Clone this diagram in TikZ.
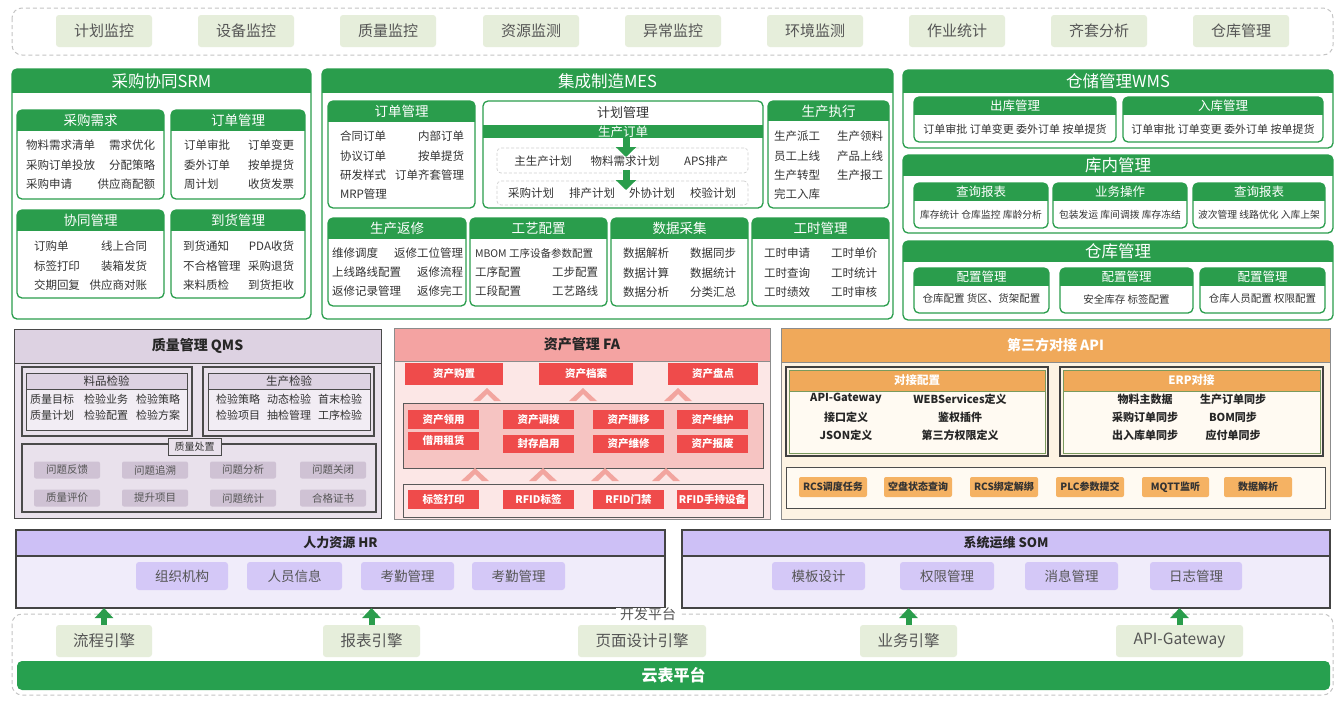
\documentclass[tikz,border=0pt]{standalone}
\usepackage{fontspec}
\setmainfont{Noto Sans CJK SC}
\usetikzlibrary{arrows.meta,calc}
\definecolor{Cgr}{HTML}{2A9D4C}
\definecolor{Clgr}{HTML}{E6EEDB}
\definecolor{Ctxt}{HTML}{333333}
\definecolor{Cgtx}{HTML}{555555}
\definecolor{Cdash}{HTML}{C4C4C4}
\definecolor{Cqbody}{HTML}{E9E1EC}
\definecolor{Cqhead}{HTML}{DDD2E2}
\definecolor{Cqin}{HTML}{F2EDF4}
\definecolor{Cqchip}{HTML}{CFC2D4}
\definecolor{Cqline}{HTML}{4A4A4A}
\definecolor{Cfhead}{HTML}{F4A3A2}
\definecolor{Cfbody}{HTML}{FCE7E6}
\definecolor{Cfmid}{HTML}{F6C4C2}
\definecolor{Cfred}{HTML}{EF4B4B}
\definecolor{Cfchev}{HTML}{F2A59F}
\definecolor{Cahead}{HTML}{F0A95A}
\definecolor{Cabody}{HTML}{FDF3E3}
\definecolor{Cain}{HTML}{FFFAF2}
\definecolor{Cachip}{HTML}{F5B263}
\definecolor{Cagl}{HTML}{7A9A5E}
\definecolor{Chhead}{HTML}{CDC0F6}
\definecolor{Chbody}{HTML}{F0ECFA}
\definecolor{Chchip}{HTML}{D4C8F7}
\definecolor{Chline}{HTML}{444444}
\definecolor{Ccloud}{HTML}{27A04F}
\newcommand\fsz[1]{\fontsize{#1pt}{#1pt}\selectfont}
\newcounter{nn}
\newcommand\itm[3][]{\stepcounter{nn}\node[itx,#1] (i\arabic{nn}) at (#2) {#3};}
\newcommand\trow[5]{\itm[anchor=west]{#1,#3}{#4}\itm[anchor=east]{#2,#3}{#5}}
\newcommand\grp[8][gsub]{%
 \begin{scope}\clip[rounded corners=5pt] (#3,#4) rectangle (#5,#6);
 \fill[Cgr] (#3,#4) rectangle (#5,#7);\end{scope}
 \draw[Cgr,line width=1.3pt,rounded corners=5pt] (#3,#4) rectangle (#5,#6);
 \node[#1] (#2) at ({(#3+#5)/2},{(#4+#7)/2}) {#8};}
\newcommand\chip[6]{\stepcounter{nn}\node[#1,minimum width={(#4-#2)*1pt},minimum height={(#5-#3)*1pt}] (c\arabic{nn}) at ({(#2+#4)/2},{(#3+#5)/2}) {#6};}
\newcommand\chev[2]{\fill[Cfchev] (#1-14,#2+13) -- (#1,#2) -- (#1+14,#2+13) -- (#1+7,#2+13) -- (#1,#2+6) -- (#1-7,#2+13) -- cycle;}
\begin{document}
\begin{tikzpicture}[x=1pt,y=-1pt,
 every node/.style={inner sep=0pt,outer sep=0pt},
 itx/.style={font=\fsz{11.5},text=Ctxt},
 gsub/.style={font=\fsz{13.5},text=white},
 gsubb/.style={font=\fsz{12.5},text=white},
 gmain/.style={font=\fsz{16.5},text=white},
 topbox/.style={fill=Clgr,rounded corners=3pt,text=Cgtx,font=\fsz{15}},
 dashbox/.style={draw=Cdash,dash pattern=on 4pt off 3pt,line width=1pt,rounded corners=10pt},
 dashrow/.style={draw=Cdash!80,dash pattern=on 3pt off 2pt,line width=0.7pt,rounded corners=4pt},
 marrow/.style={draw=Cgr,line width=7pt,-{Triangle[width=20pt,length=10pt]}},
 uparrow/.style={draw=Cgr,line width=6pt,-{Triangle[width=18pt,length=10pt]}},
 qouter/.style={draw=Cqline,fill=Cqbody,line width=1pt},
 qhd/.style={draw=Cqline,fill=Cqhead,line width=0.6pt,font=\bfseries\fsz{14},text=black!85},
 qframe/.style={draw=Cqline,line width=1.4pt},
 qinner/.style={draw=Cqline,fill=Cqin,line width=0.7pt},
 qsubh/.style={draw=Cqline,fill=Cqhead,line width=0.7pt,font=\fsz{11.5},text=Ctxt},
 qlabel/.style={draw=Cqline,fill=Cqbody,line width=0.7pt,font=\fsz{10},text=Ctxt},
 qchip/.style={fill=Cqchip,rounded corners=2pt,font=\fsz{10.5},text=Cgtx},
 qitem/.style={font=\fsz{11},text=Ctxt},
 fouter/.style={draw=black!45,fill=Cfbody,line width=0.8pt},
 fhd/.style={draw=black!45,fill=Cfhead,line width=0.6pt,font=\bfseries\fsz{14},text=black!85},
 fchip/.style={fill=Cfred,font=\bfseries\fsz{10.5},text=white},
 fmidbox/.style={draw=black!65,fill=Cfmid,line width=0.8pt},
 fbot/.style={draw=black!65,fill=Cfbody,line width=0.8pt},
 aouter/.style={draw=black!45,fill=Cabody,line width=0.8pt},
 ahd/.style={draw=black!45,fill=Cahead,line width=0.6pt,font=\bfseries\fsz{14},text=white},
 aframe/.style={draw=black!75,line width=1.5pt},
 ainner/.style={draw=Cagl,fill=Cain,line width=0.8pt},
 asubh/.style={draw=Cagl,fill=Cahead,line width=0.8pt,font=\bfseries\fsz{11.5},text=white},
 aitem/.style={font=\bfseries\fsz{11},text=black!85},
 abot/.style={draw=black!70,fill=Cain,line width=0.8pt},
 achip/.style={fill=Cachip,rounded corners=2pt,font=\bfseries\fsz{10},text=Ctxt},
 hhd/.style={draw=Chline,fill=Chhead,line width=1.2pt,font=\bfseries\fsz{13},text=black!85},
 hchip/.style={fill=Chchip,rounded corners=3pt,font=\fsz{13.5},text=Cgtx},
 hbox/.style={draw=Chline,fill=Chbody,line width=1.2pt,anchor=north west}
]
\fill[white] (0,0) rectangle (1338,707);
\useasboundingbox (0,0) rectangle (1338,707);
% ---------- top bar
\draw[dashbox] (12,8) rectangle (1333,55);
\foreach \x/\t [count=\i] in {104/计划监控,246/设备监控,388/质量监控,531/资源监测,673/异常监控,815/环境监测,957/作业统计,1099/齐套分析,1241/仓库管理}
  \node[topbox,minimum width=96pt,minimum height=32pt] (top\i) at (\x,31) {\t};
% ---------- SRM
\grp[gmain]{srm}{12}{69}{311}{319}{93}{采购协同SRM}
\grp{srmA}{17}{110}{164}{199}{131}{采购需求}
\trow{26}{155}{145}{物料需求清单}{需求优化}
\trow{26}{155}{165}{采购订单投放}{分配策略}
\trow{26}{155}{184}{采购申请}{供应商配额}
\grp{srmB}{171}{110}{305}{199}{131}{订单管理}
\trow{184}{294}{145}{订单审批}{订单变更}
\trow{184}{294}{165}{委外订单}{按单提货}
\trow{184}{294}{184}{周计划}{收货发票}
\grp{srmC}{17}{210}{164}{298}{231}{协同管理}
\trow{34}{147}{246}{订购单}{线上合同}
\trow{34}{147}{266}{标签打印}{装箱发货}
\trow{34}{147}{285}{交期回复}{供应商对账}
\grp{srmD}{171}{210}{305}{298}{231}{到货管理}
\trow{183}{294}{246}{到货通知}{PDA收货}
\trow{183}{294}{266}{不合格管理}{采购退货}
\trow{183}{294}{285}{来料质检}{到货拒收}
% ---------- MES
\grp[gmain]{mes}{322}{69}{893}{319}{93}{集成制造MES}
\grp{mesA}{328}{101}{475}{208}{122}{订单管理}
\trow{340}{464}{136}{合同订单}{内部订单}
\trow{340}{464}{156}{协议订单}{按单提货}
\trow{340}{464}{175}{研发样式}{订单齐套管理}
\itm[anchor=west]{340,194}{MRP管理}
\draw[Cgr,line width=1.3pt,rounded corners=5pt] (483,101) rectangle (763,208);
\node[font=\fsz{13},text=Ctxt] (planT) at (623,113) {计划管理};
\node[fill=Cgr,minimum width=280pt,minimum height=13pt,font=\fsz{12.5},text=white] (band) at (623,131.5) {生产订单};
\node[dashrow,minimum width=251pt,minimum height=25pt] (prow1) at (622.5,160.5) {};
\node[dashrow,minimum width=251pt,minimum height=24pt] (prow2) at (622.5,193) {};
\coordinate (a1) at (626,157);
\coordinate (a2) at (626,190);
\draw[marrow] (band.south -| a1) -- (a1);
\draw[marrow] ($(prow1.south -| a2)+(0,-3)$) -- (a2);
\itm{543,161}{主生产计划}
\itm{625,161}{物料需求计划}
\itm{706,161}{APS排产}
\itm{531,193}{采购计划}
\itm{592,193}{排产计划}
\itm{652,193}{外协计划}
\itm{713,193}{校验计划}
\grp{mesC}{768}{101}{889}{208}{121}{生产执行}
\trow{774}{883}{136}{生产派工}{生产领料}
\trow{774}{883}{156}{员工上线}{产品上线}
\trow{774}{883}{175}{生产转型}{生产报工}
\itm[anchor=west]{774,194}{完工入库}
\grp{mesD}{328}{218}{466}{306}{239}{生产返修}
\trow{332}{463}{253}{维修调度}{返修工位管理}
\trow{332}{463}{272}{上线路线配置}{返修流程}
\trow{332}{463}{291}{返修记录管理}{返修完工}
\grp{mesE}{470}{218}{607}{306}{239}{工艺配置}
\itm[anchor=west,font=\fsz{10.5}]{475,253}{MBOM 工序设备参数配置}
\trow{475}{598}{272}{工序配置}{工步配置}
\trow{475}{598}{291}{工段配置}{工艺路线}
\grp{mesF}{611}{218}{748}{306}{239}{数据采集}
\trow{623}{736}{253}{数据解析}{数据同步}
\trow{623}{736}{273}{数据计算}{数据统计}
\trow{623}{736}{292}{数据分析}{分类汇总}
\grp{mesG}{752}{218}{889}{306}{239}{工时管理}
\trow{764}{877}{253}{工时申请}{工时单价}
\trow{764}{877}{273}{工时查询}{工时统计}
\trow{764}{877}{292}{工时绩效}{工时审核}
% ---------- WMS
\grp[gmain]{wms}{903}{70}{1333}{148}{93}{仓储管理WMS}
\grp[gsubb]{wmsA}{914}{97}{1116}{142}{115}{出库管理}
\itm[font=\fsz{11}]{1015,129}{订单审批 订单变更 委外订单 按单提货}
\grp[gsubb]{wmsB}{1123}{97}{1323}{142}{115}{入库管理}
\itm[font=\fsz{11}]{1223,129}{订单审批 订单变更 委外订单 按单提货}
\grp[gmain]{wmsC}{903}{155}{1333}{233}{176}{库内管理}
\grp[gsubb]{wmsD}{914}{183}{1048}{228}{201}{查询报表}
\itm[font=\fsz{9.8}]{981,215}{库存统计 仓库监控 库龄分析}
\grp[gsubb]{wmsE}{1053}{183}{1187}{228}{201}{业务操作}
\itm[font=\fsz{9.8}]{1120,215}{包装发运 库间调拨 库存冻结}
\grp[gsubb]{wmsF}{1193}{183}{1325}{228}{201}{查询报表}
\itm[font=\fsz{9.8}]{1259,215}{波次管理 线路优化 入库上架}
\grp[gmain]{wmsG}{903}{241}{1333}{320}{262}{仓库管理}
\grp[gsubb]{wmsH}{914}{268}{1049}{313}{286}{配置管理}
\itm[font=\fsz{10.5}]{981.5,299}{仓库配置 货区、货架配置}
\grp[gsubb]{wmsI}{1060}{268}{1193}{313}{286}{配置管理}
\itm[font=\fsz{10.5}]{1126.5,299}{安全库存 标签配置}
\grp[gsubb]{wmsJ}{1200}{268}{1325}{313}{286}{配置管理}
\itm[font=\fsz{10.5}]{1262.5,299}{仓库人员配置 权限配置}
% ---------- QMS
\chip{qouter}{14}{329}{381}{518}{}
\chip{qhd}{14}{329}{381}{363}{质量管理 QMS}
\chip{qframe}{22}{367}{192}{436}{}
\chip{qinner}{26}{373}{187}{430}{}
\chip{qsubh}{26}{373}{187}{389}{料品检验}
\itm[qitem]{52,399}{质量目标}
\itm[qitem]{106,399}{检验业务}
\itm[qitem]{158,399}{检验策略}
\itm[qitem]{52,415}{质量计划}
\itm[qitem]{106,415}{检验配置}
\itm[qitem]{158,415}{检验方案}
\chip{qframe}{203}{367}{374}{436}{}
\chip{qinner}{208}{373}{370}{430}{}
\chip{qsubh}{208}{373}{370}{389}{生产检验}
\itm[qitem]{238,399}{检验策略}
\itm[qitem]{289,399}{动态检验}
\itm[qitem]{340,399}{首末检验}
\itm[qitem]{238,415}{检验项目}
\itm[qitem]{289,415}{抽检管理}
\itm[qitem]{340,415}{工序检验}
\chip{qframe}{22}{444}{376}{512}{}
\chip{qlabel}{168}{438}{221}{455}{质量处置}
\chip{qchip}{34}{461.5}{100}{478.5}{问题反馈}
\chip{qchip}{122}{461.5}{188}{478.5}{问题追溯}
\chip{qchip}{210}{461.5}{276}{478.5}{问题分析}
\chip{qchip}{300}{461.5}{366}{478.5}{问题关闭}
\chip{qchip}{34}{489.5}{100}{506.5}{质量评价}
\chip{qchip}{122}{489.5}{188}{506.5}{提升项目}
\chip{qchip}{210}{489.5}{276}{506.5}{问题统计}
\chip{qchip}{300}{489.5}{366}{506.5}{合格证书}
% ---------- FA
\chip{fouter}{394}{328}{770}{519}{}
\chip{fhd}{394}{328}{770}{361}{资产管理 FA}
\chip{fchip}{405}{363}{503}{385}{资产购置}
\chip{fchip}{539}{363}{633}{385}{资产档案}
\chip{fchip}{668}{363}{758}{385}{资产盘点}
\chev{487}{388}\chev{583}{388}\chev{678}{388}
\chip{fmidbox}{403}{403}{763}{468}{}
\chip{fchip}{408}{410}{479}{429}{资产领用}
\chip{fchip}{503}{410}{574}{429}{资产调拨}
\chip{fchip}{593}{410}{664}{429}{资产挪移}
\chip{fchip}{677}{410}{748}{429}{资产维护}
\chip{fchip}{408}{432}{479}{450}{借用租赁}
\chip{fchip}{503}{435}{574}{453}{封存启用}
\chip{fchip}{593}{435}{664}{453}{资产维修}
\chip{fchip}{677}{435}{748}{453}{资产报废}
\chev{475}{468}\chev{543}{468}\chev{605}{468}\chev{666}{468}
\chip{fbot}{403}{484}{763}{517}{}
\chip{fchip}{408}{490}{479}{509}{标签打印}
\chip{fchip}{503}{490}{574}{509}{RFID标签}
\chip{fchip}{593}{490}{664}{509}{RFID门禁}
\chip{fchip}{677}{490}{748}{509}{RFID手持设备}
% ---------- API
\chip{aouter}{781}{328}{1330}{519}{}
\chip{ahd}{781}{328}{1330}{362}{第三方对接 API}
\chip{aframe}{786}{367}{1048}{456}{}
\chip{ainner}{789}{370}{1045}{453}{}
\chip{asubh}{789}{370}{1045}{391}{对接配置}
\itm[aitem]{846,399}{API-Gateway}
\itm[aitem]{960,399}{WEBServices定义}
\itm[aitem]{846,417}{接口定义}
\itm[aitem]{960,417}{鉴权插件}
\itm[aitem]{846,435}{JSON定义}
\itm[aitem]{960,435}{第三方权限定义}
\chip{aframe}{1060}{367}{1323}{456}{}
\chip{ainner}{1063}{370}{1320}{453}{}
\chip{asubh}{1063}{370}{1320}{391}{ERP对接}
\itm[aitem]{1145,399}{物料主数据}
\itm[aitem]{1233,399}{生产订单同步}
\itm[aitem]{1145,417}{采购订单同步}
\itm[aitem]{1233,417}{BOM同步}
\itm[aitem]{1145,435}{出入库单同步}
\itm[aitem]{1233,435}{应付单同步}
\chip{abot}{786}{467}{1325}{508}{}
\chip{achip}{799}{477}{867}{497}{RCS调度任务}
\chip{achip}{884}{477}{952}{497}{空盘状态查询}
\chip{achip}{970}{477}{1038}{497}{RCS绑定解绑}
\chip{achip}{1056}{477}{1124}{497}{PLC参数提交}
\chip{achip}{1142}{477}{1209}{497}{MQTT监听}
\chip{achip}{1224}{477}{1292}{497}{数据解析}
% ---------- HR / SOM
\node[hbox,minimum width=649pt,minimum height=78pt] (hr) at (16,530) {};
\chip{hhd}{16}{530}{665}{556}{人力资源 HR}
\chip{hchip}{136}{562}{228}{590}{组织机构}
\chip{hchip}{247}{562}{342}{590}{人员信息}
\chip{hchip}{361}{562}{454}{590}{考勤管理}
\chip{hchip}{472}{562}{565}{590}{考勤管理}
\node[hbox,minimum width=648pt,minimum height=78pt] (som) at (682,530) {};
\chip{hhd}{682}{530}{1330}{556}{系统运维 SOM}
\chip{hchip}{772}{562}{865}{590}{模板设计}
\chip{hchip}{900}{562}{994}{590}{权限管理}
\chip{hchip}{1025}{562}{1118}{590}{消息管理}
\chip{hchip}{1150}{562}{1242}{590}{日志管理}
% ---------- dev platform
\draw[dashbox] (12,614) rectangle (1333,695);
\node[fill=white,inner xsep=4pt,font=\fsz{14},text=Cgtx] (devT) at (648,614) {开发平台};
\node[topbox,font=\fsz{15.5},minimum width=96pt,minimum height=32pt] (e1) at (104,641) {流程引擎};
\node[topbox,font=\fsz{15.5},minimum width=97pt,minimum height=32pt] (e2) at (371.5,641) {报表引擎};
\node[topbox,font=\fsz{15.5},minimum width=128pt,minimum height=32pt] (e3) at (642,641) {页面设计引擎};
\node[topbox,font=\fsz{15.5},minimum width=97pt,minimum height=32pt] (e4) at (908.5,641) {业务引擎};
\node[topbox,font=\fsz{15.5},minimum width=127pt,minimum height=32pt] (e5) at (1179.5,641) {API-Gateway};
\node[fill=Ccloud,rounded corners=5pt,minimum width=1313pt,minimum height=29pt,text=white,font=\bfseries\fsz{16}] (cloud) at (673.5,675.5) {云表平台};
\draw[uparrow] (e1.north) -- (e1.north |- hr.south);
\draw[uparrow] (e2.north) -- (e2.north |- hr.south);
\draw[uparrow] (e4.north) -- (e4.north |- som.south);
\draw[uparrow] (e5.north) -- (e5.north |- som.south);
\end{tikzpicture}
\end{document}
